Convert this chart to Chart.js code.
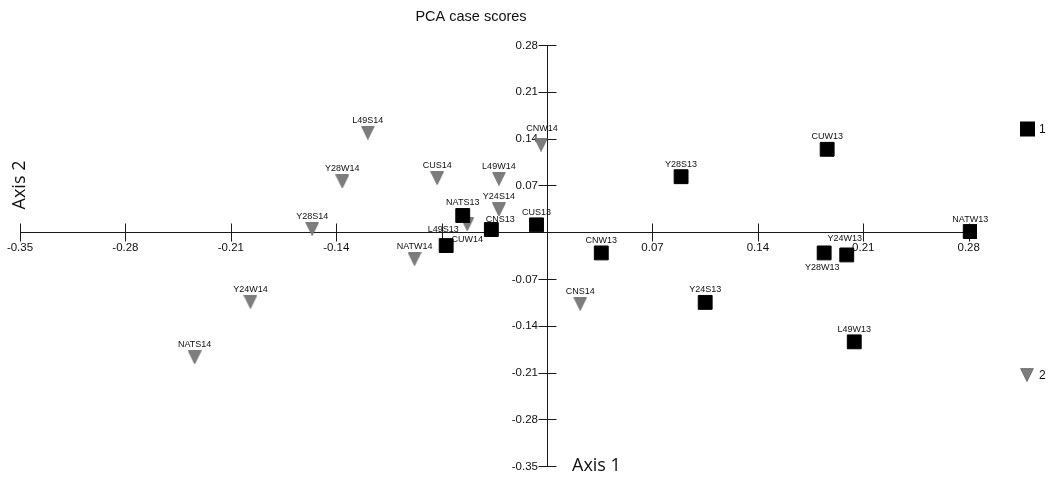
<!DOCTYPE html>
<html>
<head>
<meta charset="utf-8">
<script src="https://cdn.jsdelivr.net/npm/chart.js@4.4.1/dist/chart.umd.min.js"></script>
<style>
html,body{margin:0;padding:0;background:#fff;}
#wrap{width:1051px;height:477px;position:relative;}
</style>
</head>
<body>
<div id="wrap"><canvas id="c"></canvas></div>
<script>
// ---- data ----
const group1Names = ['NATS13','CNS13','CUS13','L49S13','CNW13','Y28S13','CUW13','NATW13','Y28W13','Y24W13','Y24S13','L49W13'];
const group1X     = [-0.056, -0.037, -0.007, -0.067, 0.036, 0.089, 0.186, 0.281, 0.184, 0.199, 0.105, 0.204];
const group1Y     = [ 0.025,  0.004,  0.011, -0.020, -0.031, 0.083, 0.124, 0.001, -0.031, -0.034, -0.105, -0.164];

const group2Names = ['Y28S14','Y28W14','Y24W14','NATS14','L49S14','CUS14','L49W14','Y24S14','CUW14','NATW14','CNW14','CNS14'];
const group2X     = [-0.156, -0.136, -0.197, -0.234, -0.119, -0.073, -0.032, -0.032, -0.053, -0.088, -0.004, 0.022];
const group2Y     = [ 0.005,  0.076, -0.104, -0.187,  0.149,  0.081,  0.080,  0.034,  0.012, -0.040,  0.131, -0.107];

const groupLabels = ['1', '2'];

const xTickValues = [-0.35, -0.28, -0.21, -0.14, -0.07, 0, 0.07, 0.14, 0.21, 0.28];
const xTickLabels = ['-0.35', '-0.28', '-0.21', '-0.14', '', '', '0.07', '0.14', '0.21', '0.28'];
const yTickValues = [0.28, 0.21, 0.14, 0.07, 0, -0.07, -0.14, -0.21, -0.28, -0.35];
const yTickLabels = ['0.28', '0.21', '0.14', '0.07', '', '-0.07', '-0.14', '-0.21', '-0.28', '-0.35'];

const chartTitle = 'PCA case scores';
const xAxisTitle = 'Axis 1';
const yAxisTitle = 'Axis 2';

// ---- styles ----
const SANS = '"Liberation Sans", Arial, Helvetica, sans-serif';
const TRI_FILL = '#7d7d7d';

function makeTriangle(w, h) {
  const cv = document.createElement('canvas');
  cv.width = w; cv.height = h;
  const g = cv.getContext('2d');
  g.beginPath();
  g.moveTo(0.6, 0.6);
  g.lineTo(w - 0.6, 0.6);
  g.lineTo(w / 2, h - 0.4);
  g.closePath();
  g.fillStyle = TRI_FILL;
  g.fill();
  g.strokeStyle = '#666';
  g.lineWidth = 0.8;
  g.stroke();
  return cv;
}
const triImg = makeTriangle(14, 14);

// label layout tweaks (style only)
const labelShift = {
  CNS13: [9, 2], L49S13: [-3, -4], Y24W13: [-2, -4], CNW14: [1, -4],
  CUW14: [0, 28], Y28W13: [-2, 27]
};

const toPoints = (xs, ys) => xs.map((v, i) => ({ x: v, y: ys[i] }));

const crossAxes = {
  id: 'crossAxes',
  beforeDatasetsDraw(chart) {
    const { ctx, chartArea } = chart;
    const xs = chart.scales.x, ys = chart.scales.y;
    const x0 = Math.round(xs.getPixelForValue(0)) + 0.5;
    const y0 = Math.round(ys.getPixelForValue(0)) + 0.5;
    ctx.save();
    ctx.strokeStyle = '#1a1a1a';
    ctx.lineWidth = 1;
    ctx.beginPath();
    ctx.moveTo(chartArea.left, y0); ctx.lineTo(chartArea.right, y0);
    ctx.moveTo(x0, ys.getPixelForValue(ys.max)); ctx.lineTo(x0, ys.getPixelForValue(ys.min));
    ctx.stroke();
    const tl = 9;
    ctx.beginPath();
    xTickValues.forEach(v => {
      const px = Math.round(xs.getPixelForValue(v)) + 0.5;
      ctx.moveTo(px, y0 - tl); ctx.lineTo(px, y0 + tl);
    });
    yTickValues.forEach(v => {
      const py = Math.round(ys.getPixelForValue(v)) + 0.5;
      ctx.moveTo(x0 - tl, py); ctx.lineTo(x0 + tl, py);
    });
    ctx.stroke();
    ctx.fillStyle = '#111';
    ctx.font = '11.5px ' + SANS;
    ctx.textAlign = 'center';
    ctx.textBaseline = 'top';
    xTickValues.forEach((v, i) => {
      if (xTickLabels[i]) ctx.fillText(xTickLabels[i], xs.getPixelForValue(v), y0 + 10);
    });
    ctx.textAlign = 'right';
    ctx.textBaseline = 'middle';
    yTickValues.forEach((v, i) => {
      if (yTickLabels[i]) ctx.fillText(yTickLabels[i], x0 - tl - 0.5, ys.getPixelForValue(v) + 0.5);
    });
    ctx.restore();
  },
  afterDatasetsDraw(chart) {
    const { ctx } = chart;
    ctx.save();
    ctx.fillStyle = '#111';
    ctx.font = '9px ' + SANS;
    ctx.textAlign = 'center';
    ctx.textBaseline = 'middle';
    chart.data.datasets.forEach((ds, di) => {
      const meta = chart.getDatasetMeta(di);
      meta.data.forEach((el, i) => {
        const name = ds.names[i];
        const s = labelShift[name] || [0, 0];
        ctx.fillText(name, el.x + s[0], el.y - 12.5 + s[1]);
      });
    });
    // title
    ctx.font = '14.5px ' + SANS;
    ctx.fillStyle = '#111';
    ctx.fillText(chartTitle, 471, 17);
    // axis titles
    ctx.font = '18px "Open Sans", "DejaVu Sans", sans-serif';
    ctx.textAlign = 'left';
    ctx.fillText(xAxisTitle, 572, 466);
    ctx.save();
    ctx.translate(20, 185);
    ctx.rotate(-Math.PI / 2);
    ctx.textAlign = 'center';
    ctx.fillText(yAxisTitle, 0, 0);
    ctx.restore();
    // legend
    const leg = [{ y: 129 }, { y: 375 }];
    chart.data.datasets.forEach((ds, di) => {
      const ly = leg[di].y;
      if (di === 0) {
        ctx.fillStyle = '#000';
        ctx.fillRect(1020, ly - 7.5, 15, 15);
      } else {
        ctx.drawImage(triImg, 1020, ly - 7);
      }
      ctx.fillStyle = '#111';
      ctx.font = '12px ' + SANS;
      ctx.textAlign = 'left';
      ctx.textBaseline = 'middle';
      ctx.fillText(ds.label, 1039, ly + 0.5);
    });
    ctx.restore();
  }
};

new Chart(document.getElementById('c'), {
  type: 'scatter',
  data: {
    datasets: [
      {
        label: groupLabels[0],
        names: group1Names,
        data: toPoints(group1X, group1Y),
        pointStyle: 'rect',
        pointRadius: 9.8,
        pointHoverRadius: 9.8,
        backgroundColor: '#000',
        borderColor: '#000',
        borderWidth: 1
      },
      {
        label: groupLabels[1],
        names: group2Names,
        data: toPoints(group2X, group2Y),
        pointStyle: triImg,
        pointRadius: 7,
        pointHoverRadius: 7,
        backgroundColor: TRI_FILL,
        borderColor: TRI_FILL,
        borderWidth: 0
      }
    ]
  },
  options: {
    responsive: true,
    maintainAspectRatio: false,
    animation: false,
    layout: { padding: { left: 20, right: 74, top: 45, bottom: 10 } },
    scales: {
      x: { type: 'linear', min: -0.35, max: 0.2855, display: false },
      y: { type: 'linear', min: -0.35, max: 0.28, display: false }
    },
    plugins: {
      legend: { display: false },
      title: { display: false },
      tooltip: { enabled: false }
    }
  },
  plugins: [crossAxes]
});
</script>
</body>
</html>
